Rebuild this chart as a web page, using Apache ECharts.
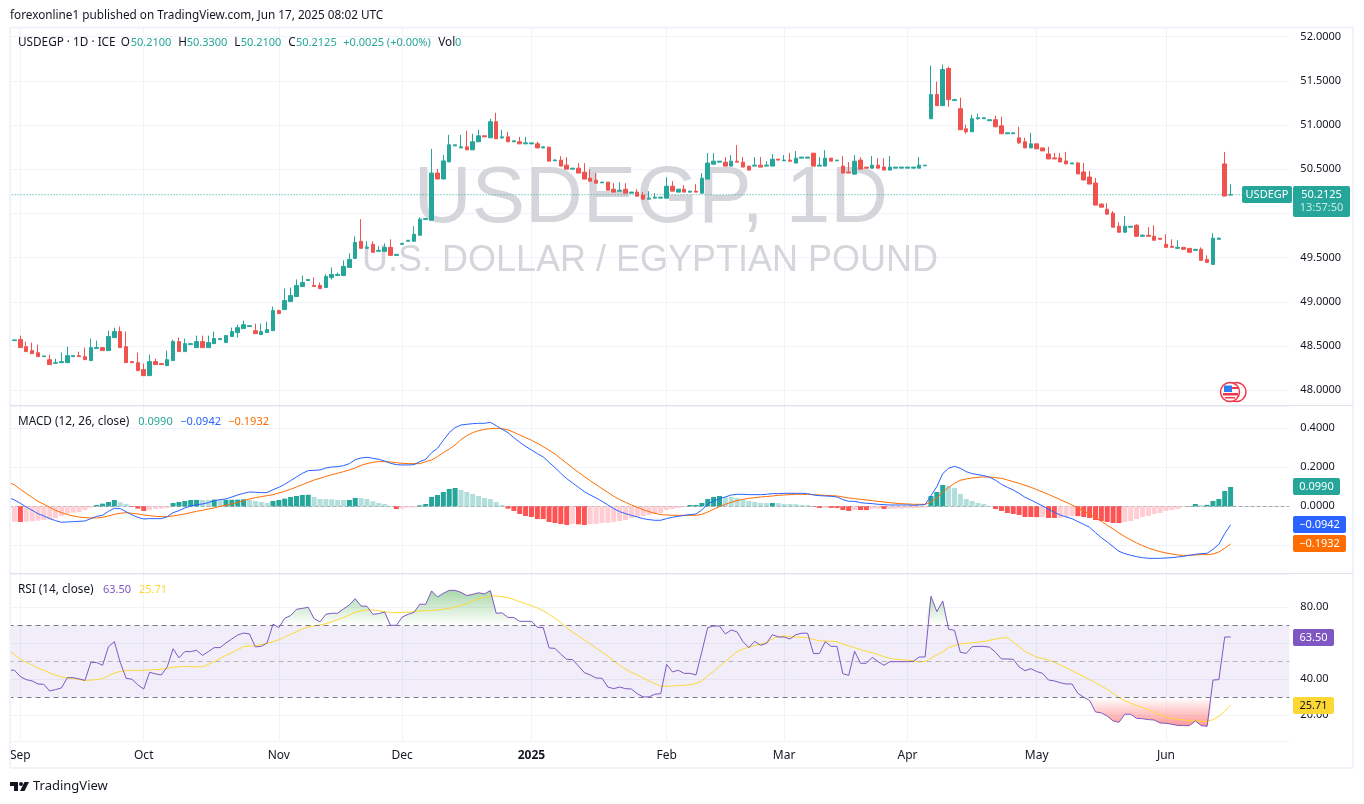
<!DOCTYPE html>
<html>
<head>
<meta charset="utf-8">
<style>html,body{margin:0;padding:0;background:#fff}#main{width:1364px;height:804px}</style>
<script src="https://cdn.jsdelivr.net/npm/echarts@6/dist/echarts.min.js"></script>
</head>
<body>
<div id="main"></div>
<script type="text/javascript">
// daily bars from Thu 2024-08-29 (weekdays only), ten values a row
var opens = [
48.608,48.562,48.574,48.494,48.449,48.426,48.381,48.347,48.306,48.313,
48.313,48.381,48.392,48.381,48.336,48.472,48.483,48.449,48.596,48.664,
48.494,48.325,48.313,48.234,48.166,48.325,48.302,48.279,48.336,48.551,
48.438,48.517,48.483,48.551,48.483,48.528,48.574,48.540,48.608,48.653,
48.698,48.721,48.675,48.630,48.653,48.675,48.902,48.913,49.004,49.061,
49.174,49.242,49.186,49.186,49.163,49.276,49.299,49.299,49.390,49.492,
49.686,49.606,49.651,49.572,49.572,49.617,49.526,49.651,49.686,49.686,
49.754,49.932,49.924,50.458,50.390,50.583,50.765,50.742,50.754,50.720,
50.811,50.879,50.856,51.038,50.856,50.867,50.811,50.811,50.788,50.788,
50.788,50.742,50.751,50.596,50.604,50.547,50.502,50.513,50.468,50.400,
50.377,50.347,50.355,50.275,50.253,50.275,50.230,50.242,50.208,50.162,
50.174,50.174,50.174,50.309,50.242,50.275,50.242,50.253,50.230,50.389,
50.558,50.581,50.581,50.536,50.592,50.581,50.536,50.536,50.547,50.536,
50.536,50.615,50.596,50.604,50.570,50.626,50.626,50.683,50.536,50.536,
50.626,50.596,50.536,50.468,50.445,50.604,50.525,50.513,50.547,50.525,
50.491,50.513,50.513,50.513,50.513,50.513,50.540,51.072,51.345,51.220,
51.640,51.277,51.186,50.958,50.924,51.072,51.072,51.049,51.061,50.992,
50.902,50.902,50.856,50.811,50.742,50.788,50.742,50.674,50.629,50.629,
50.595,50.561,50.572,50.470,50.413,50.345,50.106,50.049,50.004,49.856,
49.788,49.845,49.867,49.742,49.754,49.742,49.720,49.652,49.629,49.606,
49.617,49.606,49.583,49.595,49.481,49.424,49.708,50.561,50.2100];
var closes = [
48.562,48.570,48.483,48.438,48.415,48.381,48.389,48.291,48.313,48.325,
48.392,48.392,48.381,48.347,48.483,48.483,48.449,48.608,48.664,48.483,
48.313,48.313,48.223,48.166,48.325,48.291,48.291,48.347,48.551,48.438,
48.528,48.528,48.551,48.483,48.540,48.585,48.585,48.619,48.664,48.709,
48.743,48.732,48.641,48.664,48.687,48.902,48.868,49.015,49.072,49.186,
49.220,49.254,49.174,49.151,49.288,49.311,49.311,49.401,49.481,49.674,
49.606,49.617,49.561,49.583,49.617,49.526,49.538,49.663,49.697,49.765,
49.936,49.943,50.458,50.390,50.595,50.777,50.777,50.754,50.720,50.811,
50.879,50.867,51.038,50.845,50.867,50.811,50.822,50.788,50.799,50.799,
50.742,50.754,50.592,50.604,50.536,50.502,50.513,50.457,50.389,50.366,
50.343,50.355,50.264,50.242,50.264,50.230,50.242,50.196,50.162,50.174,
50.185,50.185,50.309,50.253,50.275,50.242,50.253,50.242,50.400,50.570,
50.592,50.592,50.536,50.592,50.581,50.525,50.491,50.547,50.525,50.547,
50.615,50.604,50.604,50.592,50.626,50.638,50.638,50.536,50.547,50.626,
50.592,50.604,50.457,50.457,50.592,50.502,50.513,50.547,50.513,50.491,
50.525,50.525,50.525,50.525,50.525,50.547,50.547,51.345,51.220,51.629,
51.288,51.288,50.947,50.924,51.072,51.083,51.083,51.061,50.981,50.902,
50.913,50.913,50.799,50.742,50.788,50.731,50.708,50.617,50.617,50.583,
50.561,50.572,50.447,50.379,50.333,50.095,50.072,49.992,49.845,49.788,
49.856,49.856,49.742,49.754,49.742,49.697,49.708,49.617,49.617,49.617,
49.595,49.561,49.595,49.470,49.447,49.720,49.720,50.197,50.2125];
var lows = [
48.562,48.562,48.483,48.438,48.415,48.381,48.381,48.291,48.306,48.313,
48.313,48.381,48.381,48.347,48.336,48.472,48.449,48.449,48.596,48.483,
48.313,48.313,48.223,48.166,48.166,48.291,48.291,48.279,48.336,48.438,
48.438,48.517,48.483,48.483,48.483,48.528,48.574,48.540,48.608,48.596,
48.698,48.721,48.641,48.630,48.653,48.675,48.868,48.913,49.004,49.061,
49.174,49.242,49.174,49.151,49.163,49.254,49.299,49.299,49.390,49.492,
49.606,49.606,49.561,49.572,49.572,49.526,49.526,49.651,49.686,49.686,
49.754,49.932,49.924,50.390,50.390,50.583,50.765,50.742,50.720,50.720,
50.811,50.867,50.856,50.845,50.845,50.811,50.811,50.788,50.788,50.788,
50.742,50.742,50.592,50.596,50.536,50.502,50.502,50.457,50.389,50.366,
50.343,50.347,50.264,50.242,50.253,50.230,50.230,50.196,50.162,50.162,
50.174,50.174,50.174,50.253,50.242,50.242,50.242,50.242,50.230,50.389,
50.558,50.581,50.536,50.536,50.581,50.525,50.491,50.536,50.525,50.536,
50.536,50.604,50.596,50.592,50.570,50.626,50.626,50.536,50.536,50.536,
50.592,50.596,50.457,50.457,50.445,50.502,50.513,50.513,50.513,50.491,
50.491,50.513,50.513,50.513,50.513,50.513,50.540,51.072,51.220,51.220,
51.208,51.277,50.947,50.902,50.924,51.061,51.072,51.049,50.981,50.902,
50.902,50.902,50.788,50.742,50.742,50.731,50.708,50.617,50.617,50.583,
50.561,50.561,50.447,50.379,50.333,50.095,50.072,49.992,49.845,49.788,
49.788,49.845,49.742,49.742,49.742,49.697,49.708,49.617,49.617,49.606,
49.595,49.561,49.583,49.470,49.447,49.424,49.708,50.197,50.2100];
var highs = [
48.608,48.570,48.619,48.551,48.540,48.517,48.389,48.404,48.358,48.426,
48.494,48.392,48.438,48.483,48.585,48.562,48.483,48.675,48.709,48.721,
48.664,48.325,48.426,48.302,48.404,48.358,48.302,48.449,48.574,48.596,
48.585,48.528,48.619,48.619,48.619,48.664,48.585,48.619,48.709,48.743,
48.789,48.732,48.755,48.755,48.777,48.947,48.913,49.151,49.162,49.254,
49.299,49.254,49.276,49.220,49.311,49.390,49.333,49.470,49.549,49.742,
49.936,49.686,49.686,49.629,49.663,49.708,49.538,49.663,49.697,49.856,
49.958,49.943,50.731,50.504,50.663,50.890,50.777,50.890,50.936,50.902,
50.947,50.879,51.072,51.140,50.947,50.924,50.822,50.867,50.867,50.799,
50.811,50.754,50.751,50.615,50.649,50.638,50.513,50.570,50.570,50.502,
50.457,50.355,50.355,50.343,50.355,50.343,50.242,50.275,50.242,50.253,
50.230,50.185,50.411,50.366,50.275,50.321,50.253,50.332,50.457,50.683,
50.683,50.592,50.638,50.660,50.774,50.638,50.536,50.638,50.638,50.592,
50.672,50.615,50.660,50.683,50.706,50.638,50.638,50.683,50.638,50.717,
50.626,50.604,50.649,50.581,50.660,50.638,50.525,50.649,50.626,50.626,
50.649,50.525,50.525,50.525,50.525,50.638,50.547,51.674,51.492,51.686,
51.663,51.299,51.311,51.004,51.117,51.129,51.083,51.061,51.106,51.095,
50.913,50.913,50.981,50.856,50.913,50.788,50.742,50.754,50.686,50.686,
50.697,50.572,50.583,50.572,50.481,50.402,50.117,50.117,50.027,49.902,
49.970,49.856,49.879,49.765,49.845,49.867,49.720,49.765,49.708,49.697,
49.617,49.606,49.595,49.617,49.527,49.777,49.731,50.697,50.3300];

var macdLine = [
.0444,.0325,.0154,-.0034,-.0205,-.0376,-.0496,-.0632,-.0735,-.0821,
-.0803,-.0786,-.0769,-.0752,-.0632,-.0513,-.0462,-.0256,-.0103,-.012,
-.0274,-.0444,-.0564,-.065,-.0632,-.0632,-.0632,-.053,-.0325,-.0222,
-.0085,.0017,.0085,.012,.0188,.0291,.0342,.0376,.0479,.0581,
.0667,.0735,.0718,.0701,.0701,.0855,.0974,.1128,.1316,.1504,
.1692,.1829,.1846,.1863,.1966,.2017,.2034,.2085,.2188,.2393,
.2479,.2513,.2462,.241,.2325,.2205,.2137,.212,.212,.2137,
.2291,.241,.2752,.2974,.3385,.3778,
.4034,.4171,.4205,.4239,.4256,.4256,.4308,.4137,.3949,.3778,
.3521,.3282,.3077,.2889,.2701,.2530,.2256,.1983,.1692,.1419,
.1197,.0974,.0752,.0581,.0427,.0256,.0068,-.012,-.0274,-.0376,
-.0462,-.0547,-.0632,-.0684,-.0718,-.0718,-.0632,-.0564,-.0513,-.0462,
-.0427,-.0393,-.0188,.012,.0274,.0393,.0479,.0581,.0615,.0615,
.0598,.0598,.0598,.0615,.065,.065,.0667,.0667,.0667,.0667,
.065,.0581,.0547,.053,.0513,.0479,.0342,.0256,.0256,.0188,
.0154,.0137,.0103,.0085,.0068,.0068,
.0068,.0068,.0051,.0068,.0085,.0547,.1009,.1675,.1949,.2051,
.1949,.1778,.1675,.1624,.1573,.1487,.1333,.1128,.0974,.0838,
.0667,.0462,.0325,.0171,.0017,-.0154,-.0308,-.0444,-.0547,-.0632,
-.0786,-.0923,-.1077,-.135,-.1607,-.1829,-.2068,-.2308,-.2427,-.2513,
-.2581,-.2632,-.2667,-.2667,-.2667,-.265,-.2632,-.2598,-.2564,-.2513,
-.2462,-.2427,-.241,-.2205,-.1949,-.1402,-.0942];
var signalLine = [
.1231,.1094,.0872,.0667,.0462,.0256,.0103,-.0051,-.0205,-.0325,
-.0427,-.0496,-.0547,-.0581,-.0598,-.0598,-.0564,-.0496,-.041,-.0359,
-.0325,-.0359,-.0393,-.0444,-.0479,-.0513,-.053,-.053,-.0496,-.0444,
-.0393,-.0325,-.0256,-.0205,-.0137,-.0085,0,.0051,.012,.0205,
.0291,.0376,.0444,.0496,.0547,.0598,.0684,.0769,.0872,.0991,
.1111,.1231,.135,.1436,.1538,.1624,.1692,.1778,.1863,.1966,
.2103,.2188,.2256,.2291,.2291,.2274,.2239,.2205,.2188,.2188,
.2188,.2291,.2376,.2547,.2752,.294,
.3145,.3419,.3624,.3778,.388,.3949,.3983,.4,.3983,.3915,
.3795,.3658,.3521,.3385,.3231,.306,.2872,.2684,.2444,.2205,
.1966,.1744,.1521,.1316,.1111,.0906,.0718,.0513,.0342,.0205,
.0068,-.0051,-.0171,-.0274,-.0359,-.0427,-.0444,-.0462,-.0462,-.0462,
-.0462,-.0462,-.041,-.0291,-.0154,-.0017,.0103,.0205,.0291,.0359,
.041,.0444,.0479,.0496,.053,.0564,.0581,.0598,.0615,.0615,
.0615,.0598,.0581,.0564,.0547,.053,.0479,.0427,.0393,.0359,
.0325,.0291,.0256,.0222,.0188,.0154,
.0137,.012,.0103,.0103,.0103,.0222,.0427,.0718,.0974,.1179,
.1333,.1402,.1453,.1487,.1504,.1504,.147,.1436,.135,.1265,
.1179,.1077,.0974,.0855,.0735,.0615,.0479,.0342,.0205,.0068,
-.0085,-.0239,-.041,-.0581,-.0769,-.0974,-.1162,-.1368,-.1556,-.1726,
-.188,-.2017,-.2137,-.2239,-.2325,-.2393,-.2444,-.2496,-.2513,-.2513,
-.2496,-.2479,-.2479,-.2444,-.2342,-.2154,-.1932];
var macdHist = [
-.0786,-.0786,-.0803,-.0786,-.0769,-.0735,-.0701,-.0667,-.0615,-.0496,
-.0376,-.0325,-.0308,-.0188,-.0068,.0068,.0137,.0222,.0325,.0205,
.012,-.0034,-.012,-.0239,-.0188,-.0137,-.012,-.0085,.0171,.0222,
.0274,.0325,.033,.0325,.032,.0342,.0325,.033,.0335,.0342,
.0359,.0325,.0274,.0222,.0171,.0274,.0325,.0393,.0479,.053,
.0581,.059,.0479,.0376,.037,.0365,.0325,.032,.0325,.0427,
.042,.0376,.0256,.0171,.012,.0017,-.0137,-.012,-.0068,-.006,
.0051,.012,.0479,.0581,.0735,.0889,
.094,.0838,.0735,.0632,.053,.0427,.0376,.0222,.0068,-.012,
-.0239,-.0393,-.0496,-.0547,-.065,-.0655,-.0803,-.0855,-.0906,-.0957,
-.0906,-.0923,-.0957,-.0906,-.09,-.0855,-.085,-.0803,-.0752,-.0701,
-.0598,-.0547,-.0496,-.0444,-.0393,-.0342,-.0188,-.0137,-.0085,-.0034,
.0068,.007,.0171,.0376,.0479,.053,.0479,.0475,.0427,.0325,
.0274,.0222,.0171,.0165,.0171,.0165,.012,.0115,.011,.0068,
.006,-.0017,-.0085,-.0068,-.0085,-.009,-.0188,-.0239,-.0188,-.019,
-.0195,-.0137,-.013,-.0135,-.013,-.0125,
-.012,-.0103,-.01,-.0085,-.0068,.053,.0735,.1094,.1043,.094,
.0632,.0376,.0274,.0171,.012,.0017,-.0137,-.0239,-.0342,-.0393,
-.0444,-.0547,-.055,-.0555,-.0547,-.0598,-.06,-.0598,-.0547,-.0496,
-.05,-.0547,-.0598,-.0701,-.0752,-.0803,-.0855,-.086,-.0803,-.0752,
-.065,-.0547,-.0496,-.0393,-.0342,-.0239,-.0188,-.0137,-.0034,.0017,
.012,.0068,.0075,.0274,.0376,.0786,.0990];

var rsiLine = [
45.2,45.0,41.5,39.8,39.1,37.4,37.2,33.5,34.3,35.2,
40.9,40.9,40.2,39.4,49.4,49.3,47.8,58.1,60.9,49.4,
40.6,40.0,36.9,34.6,43.9,43.0,42.4,46.9,57.0,51.9,
55.4,55.4,56.1,53.3,55.4,57.6,57.6,60.2,62.4,64.6,
65.7,65.2,58.0,58.3,60.2,70.6,68.7,73.9,75.4,78.9,
79.4,80.0,73.7,71.9,76.1,76.7,76.7,79.1,81.3,84.8,
80.7,80.6,76.1,76.5,77.4,70.0,70.0,74.6,76.1,77.2,
81.7,81.7,89.1,85.7,87.8,89.4,
89.4,88.3,86.5,87.2,88.1,87.4,89.3,76.7,76.9,74.4,
74.3,72.2,72.2,72.2,68.9,68.7,57.4,57.2,53.9,51.1,
50.9,47.4,43.7,42.4,40.7,40.6,35.7,34.8,35.7,34.8,
34.6,32.0,30.2,30.2,31.7,32.0,48.3,44.1,45.0,43.3,
43.3,42.4,55.4,68.7,69.6,69.6,65.2,67.4,66.3,60.9,
57.6,61.1,58.9,60.0,64.8,63.5,63.5,62.4,64.8,65.6,
65.6,54.3,54.3,60.9,58.3,58.3,43.1,42.2,55.6,48.9,
48.9,52.2,49.8,47.8,49.8,49.8,
49.8,49.8,50.0,52.4,52.4,86.1,77.6,83.5,67.8,67.2,
55.0,54.4,58.1,58.3,58.3,57.8,55.0,51.3,51.3,51.1,
46.9,44.8,45.9,44.3,43.3,39.6,39.1,38.1,37.4,37.4,
32.2,30.0,28.3,21.9,21.3,19.6,16.9,16.1,20.6,20.6,
18.3,18.1,17.6,17.4,15.7,15.6,15.0,14.4,14.3,14.3,
16.9,14.3,13.9,39.6,39.8,63.5,63.5];
var rsiMa = [
55.9,53.9,51.1,49.4,48.0,46.3,45.0,43.5,42.2,41.3,
40.7,40.4,39.8,39.3,39.6,39.8,40.4,42.0,43.5,44.4,
44.8,45.0,45.0,45.0,45.2,45.4,45.6,46.1,46.7,46.9,
47.2,47.0,46.9,47.0,48.3,49.8,51.5,53.3,54.8,56.5,
58.1,58.5,58.5,59.3,60.0,60.9,61.9,63.5,65.0,66.3,
68.0,69.1,69.6,70.2,70.9,72.0,73.1,74.3,75.7,77.2,
78.1,78.5,78.5,78.1,77.6,77.0,77.0,77.2,77.2,77.6,
78.0,78.1,78.3,78.5,78.9,79.4,
80.2,81.1,81.9,83.5,84.6,85.6,86.3,86.3,85.9,85.4,
84.3,83.1,82.0,80.9,79.6,78.1,76.1,73.9,71.5,68.7,
66.1,64.1,61.9,59.6,57.4,55.2,52.8,50.2,47.8,45.6,
43.9,42.4,40.7,39.1,37.6,36.1,36.1,36.3,36.5,36.7,
37.0,37.6,39.1,41.9,44.4,47.2,50.0,52.6,55.4,56.9,
57.8,58.7,59.6,60.4,62.4,63.7,64.1,63.7,63.5,63.3,
63.1,62.2,61.3,61.3,61.1,60.9,59.6,58.5,57.6,56.5,
55.6,54.8,53.7,52.6,51.7,51.1,
50.9,50.6,50.2,49.6,50.0,51.7,53.5,55.2,57.6,58.7,
59.6,60.0,60.2,60.6,61.1,61.7,62.4,63.0,63.1,60.7,
58.1,55.4,53.9,52.2,51.5,50.7,49.4,48.0,46.5,44.8,
43.1,41.5,39.8,38.0,36.3,34.4,32.2,30.0,28.0,26.7,
25.4,24.3,23.0,21.7,20.2,19.1,18.1,17.8,17.4,17.0,
16.9,16.7,16.5,17.6,19.3,22.4,25.71];

var monthDates = ['2024-09-02','2024-10-01','2024-11-01','2024-12-02','2025-01-01','2025-02-03','2025-03-03','2025-04-01','2025-05-01','2025-06-02'];
var monthNames = ['Sep','Oct','Nov','Dec','2025','Feb','Mar','Apr','May','Jun'];
var lastPrice = 50.2125;

// weekdays for the category axis, with some empty room to the right of the last bar
var days = [];
var d = new Date(Date.UTC(2024, 7, 29));
while (days.length < 219) {
	if (d.getUTCDay() != 0 && d.getUTCDay() != 6) days.push(d.toISOString().slice(0, 10));
	d = new Date(d.getTime() + 86400000);
}

var FONT = '"Noto Sans", sans-serif';
var TEAL = '#26a69a', RED = '#ef5350', GRID = '#f0f3fa', INK = '#131722';
var BLUE = '#2962ff', ORANGE = '#ff6d00', PURPLE = '#7e57c2', YELLOW = '#fdd835';

function isMonth(idx, val) { return monthDates.indexOf(val) >= 0; }

function xAxisFor(n, withLabels) {
	return {
		type: 'category', gridIndex: n, data: days, boundaryGap: false,
		axisLine: {show: false}, axisTick: {show: false},
		splitLine: {show: true, interval: isMonth, lineStyle: {color: GRID, width: 1}},
		axisLabel: {
			show: withLabels, interval: isMonth, margin: 9, fontFamily: FONT, fontSize: 12, color: INK,
			formatter: function (v) {
				var name = monthNames[monthDates.indexOf(v)];
				return name == '2025' ? '{b|2025}' : name;
			},
			rich: {b: {fontWeight: 'bold', fontFamily: FONT, fontSize: 12, color: INK}}
		}
	};
}
function yAxisFor(n, min, max, split, step, digits, floor) {
	return {
		type: 'value', gridIndex: n, position: 'right', min: min, max: max, splitNumber: split,
		axisLine: {show: false}, axisTick: {show: false},
		splitLine: {lineStyle: {color: GRID, width: 1}},
		axisLabel: {
			margin: 11, fontFamily: FONT, fontSize: 11, color: INK,
			formatter: function (v) {
				var q = v / step;
				if (Math.abs(q - Math.round(q)) > 1e-6 || v < floor) return '';
				return v.toFixed(digits);
			}
		}
	};
}

function txt(x, y, text, color, size, extra) {
	var st = {x: x, y: y, text: text, fill: color, font: (size || 11.75) + 'px ' + FONT, verticalAlign: 'middle'};
	if (extra) for (var k in extra) st[k] = extra[k];
	return {type: 'text', z: 120, silent: true, style: st};
}
function tag(x, y, w, h, bg, text, color) {
	return [
		{type: 'rect', z: 110, silent: true, shape: {x: x, y: y, width: w, height: h, r: 2}, style: {fill: bg}},
		txt(x + w / 2, y + h / 2, text, color || '#fff', 11, {align: 'center'})
	];
}
function frameLine(x1, y1, x2, y2, color, w) {
	return {type: 'line', z: 105, silent: true, shape: {x1: x1, y1: y1, x2: x2, y2: y2}, style: {stroke: color, lineWidth: w}};
}

var gfx = [
	// big symbol watermark behind the bars
	{type: 'text', z: 1, silent: true, style: {x: 651, y: 200, text: 'USDEGP, 1D', fill: '#d5d6db', font: '80px "Liberation Sans"', align: 'center', verticalAlign: 'middle'}},
	{type: 'text', z: 1, silent: true, style: {x: 650, y: 261, text: 'U.S. DOLLAR / EGYPTIAN POUND', fill: '#d5d6db', font: '36px "Liberation Sans"', align: 'center', verticalAlign: 'middle'}},
	// keeps the first clipped bar at the pane edge
	{type: 'rect', z: 100, silent: true, shape: {x: 0, y: 20, width: 10, height: 750}, style: {fill: '#fff'}},
	frameLine(10, 27.5, 1353, 27.5, GRID, 2),
	frameLine(10, 27, 10, 768, GRID, 2),
	frameLine(1353, 27, 1353, 768, GRID, 2),
	frameLine(10, 768, 1353, 768, GRID, 2),
	frameLine(10, 405.5, 1353, 405.5, '#e0e3eb', 1),
	frameLine(10, 573.5, 1353, 573.5, '#e0e3eb', 1),
	txt(10, 15.5, 'forexonline1 published on TradingView.com, Jun 17, 2025 08:02 UTC', INK),
	txt(18, 42.5, 'USDEGP · 1D · ICE', INK), txt(120.7, 42.5, 'O', INK), txt(130.7, 42.5, '50.2100', TEAL, 11),
	txt(178.3, 42.5, 'H', INK), txt(186.7, 42.5, '50.3300', TEAL, 11),
	txt(234.3, 42.5, 'L', INK), txt(240.7, 42.5, '50.2100', TEAL, 11),
	txt(288.3, 42.5, 'C', INK), txt(296, 42.5, '50.2125', TEAL, 11),
	txt(343.3, 42.5, '+0.0025 (+0.00%)', TEAL, 11), txt(438.3, 42.5, 'Vol', INK), txt(455, 42.5, '0', TEAL, 11),
	txt(18, 421.5, 'MACD (12, 26, close)', INK), txt(138.3, 421.5, '0.0990', TEAL, 11),
	txt(180.3, 421.5, '−0.0942', BLUE, 11), txt(228.3, 421.5, '−0.1932', ORANGE, 11),
	txt(18, 589.5, 'RSI (14, close)', INK), txt(103, 589.5, '63.50', PURPLE, 11), txt(139, 589.5, '25.71', YELLOW, 11),
	// TradingView mark in the footer
	{type: 'polygon', z: 120, silent: true, shape: {points: [[10, 782], [18, 782], [18, 791], [14, 791], [14, 786], [10, 786]]}, style: {fill: INK}},
	{type: 'circle', z: 120, silent: true, shape: {cx: 21, cy: 784, r: 2}, style: {fill: INK}},
	{type: 'polygon', z: 120, silent: true, shape: {points: [[24.5, 782], [29, 782], [24.5, 791], [20, 791]]}, style: {fill: INK}},
	txt(33, 786.5, 'TradingView', INK, 13),
	// country badge
	{type: 'circle', z: 120, silent: true, shape: {cx: 1236.5, cy: 392, r: 9.5}, style: {fill: '#fff', stroke: '#f23645', lineWidth: 1.5}},
	{type: 'circle', z: 121, silent: true, shape: {cx: 1230, cy: 392, r: 9.5}, style: {fill: '#fff', stroke: '#f23645', lineWidth: 1.5}},
	{type: 'rect', z: 122, silent: true, shape: {x: 1224, y: 385.5, width: 8, height: 6.5}, style: {fill: '#2e7ff0'}},
	{type: 'rect', z: 122, silent: true, shape: {x: 1232, y: 387, width: 6, height: 2}, style: {fill: '#f23645'}},
	{type: 'rect', z: 122, silent: true, shape: {x: 1223, y: 393, width: 15, height: 2.5}, style: {fill: '#f23645'}},
	{type: 'rect', z: 122, silent: true, shape: {x: 1225, y: 397, width: 10, height: 1.5}, style: {fill: '#f23645'}}
];
gfx = gfx.concat(
	tag(1242, 186, 50, 17, TEAL, 'USDEGP'),
	tag(1293, 186, 57, 31, TEAL, ''),
	[txt(1321.5, 194.5, '50.2125', '#fff', 11, {align: 'center'}), txt(1321.5, 208, '13:57:50', '#c5e9e5', 11, {align: 'center'})],
	tag(1293, 478, 47, 17, TEAL, '0.0990'),
	tag(1293, 516, 53, 17, BLUE, '−0.0942'),
	tag(1293, 535, 53, 17, ORANGE, '−0.1932'),
	tag(1293, 629, 41, 17, PURPLE, '63.50'),
	tag(1293, 697, 41, 17, YELLOW, '25.71', INK)
);

var grids = [
	{left: 8.6, width: 1280.75, top: 27.5, height: 377.5},
	{left: 8.6, width: 1280.75, top: 406, height: 167},
	{left: 8.6, width: 1280.75, top: 574, height: 167}
];

var option = {
	animation: false,
	backgroundColor: '#fff',
	textStyle: {fontFamily: FONT},
	graphic: gfx,
	grid: grids,
	xAxis: [xAxisFor(0, false), xAxisFor(1, false), xAxisFor(2, true)],
	yAxis: [
		yAxisFor(0, 47.834, 52.104, 8, 0.5, 4, 0),
		yAxisFor(1, -0.342, 0.5144, 4, 0.2, 4, 0),
		yAxisFor(2, 5.72, 98.5, 4, 20, 2, 0)
	],
	series: [
		{
			// last price line across the pane
			type: 'line', xAxisIndex: 0, yAxisIndex: 0, showSymbol: false, z: 2,
			data: days.map(function () { return lastPrice; }),
			lineStyle: {color: TEAL, type: [1, 2], width: 1}
		},
		{
			type: 'candlestick', xAxisIndex: 0, yAxisIndex: 0, barWidth: 4, z: 3,
			data: opens.map(function (o, i) { return [o, closes[i], lows[i], highs[i]]; }),
			itemStyle: {color: TEAL, color0: RED, borderColor: TEAL, borderColor0: RED, borderWidth: 1}
		},
		{
			type: 'bar', xAxisIndex: 1, yAxisIndex: 1, barWidth: 5, z: 3,
			data: macdHist,
			itemStyle: {
				color: function (p) {
					var v = p.value, prev = p.dataIndex ? macdHist[p.dataIndex - 1] : v;
					if (v >= 0) return v > prev ? TEAL : '#b2dfdb';
					return v < prev ? '#ff5252' : '#ffcdd2';
				}
			},
			markLine: {
				silent: true, symbol: 'none', label: {show: false}, z: 1,
				data: [{yAxis: 0, lineStyle: {color: '#a6a8b0', type: 'dashed', width: 1}}]
			}
		},
		{type: 'line', xAxisIndex: 1, yAxisIndex: 1, data: signalLine, showSymbol: false, z: 4, lineStyle: {color: ORANGE, width: 1}},
		{type: 'line', xAxisIndex: 1, yAxisIndex: 1, data: macdLine, showSymbol: false, z: 5, lineStyle: {color: BLUE, width: 1}},
		{
			type: 'line', xAxisIndex: 2, yAxisIndex: 2, showSymbol: false, z: 2, lineStyle: {width: 0},
			data: rsiLine.map(function (v) { return Math.max(v, 70); }),
			areaStyle: {
				origin: 70, opacity: 1,
				color: new echarts.graphic.LinearGradient(0, 571, 0, 625.3, [
					{offset: 0, color: 'rgba(76,175,80,0.75)'}, {offset: 1, color: 'rgba(76,175,80,0)'}
				], true)
			}
		},
		{
			type: 'line', xAxisIndex: 2, yAxisIndex: 2, showSymbol: false, z: 2, lineStyle: {width: 0},
			data: rsiLine.map(function (v) { return Math.min(v, 30); }),
			areaStyle: {
				origin: 30, opacity: 1,
				color: new echarts.graphic.LinearGradient(0, 697.3, 0, 733, [
					{offset: 0, color: 'rgba(255,82,82,0)'}, {offset: 1, color: 'rgba(255,82,82,0.75)'}
				], true)
			}
		},
		{
			type: 'line', xAxisIndex: 2, yAxisIndex: 2, data: rsiMa, showSymbol: false, z: 4,
			lineStyle: {color: YELLOW, width: 1}
		},
		{
			type: 'line', xAxisIndex: 2, yAxisIndex: 2, data: rsiLine, showSymbol: false, z: 5,
			lineStyle: {color: PURPLE, width: 1},
			markArea: {
				silent: true, itemStyle: {color: 'rgba(126,87,194,0.1)'},
				data: [[{yAxis: 70}, {yAxis: 30}]]
			},
			markLine: {
				silent: true, symbol: 'none', label: {show: false},
				data: [
					{yAxis: 70, lineStyle: {color: '#787b86', type: [5, 4], width: 1}},
					{yAxis: 50, lineStyle: {color: 'rgba(120,123,134,0.5)', type: [5, 4], width: 1}},
					{yAxis: 30, lineStyle: {color: '#787b86', type: [5, 4], width: 1}}
				]
			}
		}
	]
};

var myChart = echarts.init(document.getElementById('main'), null, {renderer: 'canvas'});
myChart.setOption(option);
</script>
</body>
</html>
